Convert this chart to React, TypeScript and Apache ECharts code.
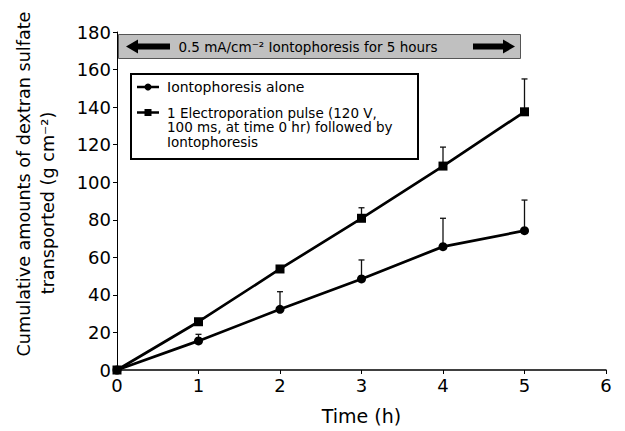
import React, { useEffect, useRef } from "react";
import * as echarts from "echarts";

const times = [0, 1, 2, 3, 4, 5];
const aloneMean = [0, 15.5, 32.3, 48.5, 65.7, 74.2];
const aloneUpper = [null, 19, 41.7, 58.6, 80.8, 90.5];
const electroMean = [0, 25.7, 53.8, 80.8, 108.6, 137.5];
const electroUpper = [null, null, null, 86.4, 118.7, 155];
const yTicks = { min: 0, max: 180, interval: 20 };
const xTicks = { min: 0, max: 6, interval: 1 };
const legendLines = ["1 Electroporation pulse (120 V,", "100 ms, at time 0 hr) followed by", "Iontophoresis"];

const FONT = "DejaVu Sans";

export default function App() {
  const ref = useRef<HTMLDivElement>(null);
  useEffect(() => {
    if (!ref.current) return;
    const chart = echarts.init(ref.current, undefined, { renderer: "svg" });

    const errData: any[] = [];
    times.forEach((t, i) => {
      if (aloneUpper[i] != null) errData.push([t, aloneMean[i], aloneUpper[i]]);
      if (electroUpper[i] != null) errData.push([t, electroMean[i], electroUpper[i]]);
    });

    const arrowL = (x0: number, x1: number, cy: number) => [
      [x0, cy],
      [x0 + 12, cy - 7],
      [x0 + 12, cy - 3],
      [x1, cy - 3],
      [x1, cy + 3],
      [x0 + 12, cy + 3],
      [x0 + 12, cy + 7],
    ];
    const arrowR = (x0: number, x1: number, cy: number) => [
      [x1, cy],
      [x1 - 12, cy - 7],
      [x1 - 12, cy - 3],
      [x0, cy - 3],
      [x0, cy + 3],
      [x1 - 12, cy + 3],
      [x1 - 12, cy + 7],
    ];

    chart.setOption({
      animation: false,
      grid: { left: 117, right: 19, top: 32, bottom: 61, containLabel: false },
      xAxis: {
        type: "value",
        min: xTicks.min,
        max: xTicks.max,
        interval: xTicks.interval,
        name: "Time (h)",
        nameLocation: "middle",
        nameGap: 36,
        nameTextStyle: { fontFamily: FONT, fontSize: 19, lineHeight: 20, color: "#000" },
        axisLine: { show: true, lineStyle: { color: "#000", width: 1.5 } },
        axisTick: { show: true, length: 4, lineStyle: { color: "#000" } },
        axisLabel: { fontFamily: FONT, fontSize: 18, color: "#000", margin: 6 },
        splitLine: { show: false },
      },
      yAxis: {
        type: "value",
        min: yTicks.min,
        max: yTicks.max,
        interval: yTicks.interval,
        axisLine: { show: true, lineStyle: { color: "#000", width: 1 } },
        axisTick: { show: true, length: 4, lineStyle: { color: "#000" } },
        axisLabel: { fontFamily: FONT, fontSize: 18, color: "#000", margin: 6 },
        splitLine: { show: false },
      },
      series: [
        {
          type: "custom",
          name: "err",
          data: errData,
          z: 1,
          renderItem: (params: any, api: any) => {
            const x = api.value(0);
            const p0 = api.coord([x, api.value(1)]);
            const p1 = api.coord([x, api.value(2)]);
            const style = { stroke: "#111", lineWidth: 1.3 };
            return {
              type: "group",
              children: [
                { type: "line", shape: { x1: p0[0], y1: p0[1], x2: p1[0], y2: p1[1] }, style },
                { type: "line", shape: { x1: p1[0] - 3, y1: p1[1], x2: p1[0] + 3, y2: p1[1] }, style },
              ],
            };
          },
        },
        {
          type: "line",
          name: "Iontophoresis alone",
          data: times.map((t, i) => [t, aloneMean[i]]),
          symbol: "circle",
          symbolSize: 9,
          showAllSymbol: true,
          lineStyle: { color: "#000", width: 2.7 },
          itemStyle: { color: "#000" },
          z: 3,
        },
        {
          type: "line",
          name: "Electroporation",
          data: times.map((t, i) => [t, electroMean[i]]),
          symbol: "rect",
          symbolSize: 9,
          showAllSymbol: true,
          lineStyle: { color: "#000", width: 2.7 },
          itemStyle: { color: "#000" },
          z: 4,
        },
      ],
      graphic: [
        {
          type: "rect",
          shape: { x: 118.5, y: 34.5, width: 402, height: 24 },
          style: { fill: "#c0c0c0", stroke: "#555", lineWidth: 1 },
          z: 10,
        },
        { type: "polygon", shape: { points: arrowL(126, 170, 46.5) }, style: { fill: "#000" }, z: 11 },
        { type: "polygon", shape: { points: arrowR(473, 515, 46.5) }, style: { fill: "#000" }, z: 11 },
        {
          type: "text",
          x: 308,
          y: 47,
          style: {
            text: "0.5 mA/cm⁻² Iontophoresis for 5 hours",
            fontFamily: FONT,
            fontSize: 13.5,
            fill: "#000",
            align: "center",
            verticalAlign: "middle",
          },
          z: 11,
        },
        {
          type: "rect",
          shape: { x: 131, y: 74, width: 287, height: 85 },
          style: { fill: "#fff", stroke: "#000", lineWidth: 2 },
          z: 10,
        },
        { type: "line", shape: { x1: 137, y1: 87, x2: 159, y2: 87 }, style: { stroke: "#000", lineWidth: 2.5 }, z: 11 },
        { type: "circle", shape: { cx: 148, cy: 87, r: 3.5 }, style: { fill: "#000" }, z: 11 },
        { type: "line", shape: { x1: 137, y1: 112.5, x2: 159, y2: 112.5 }, style: { stroke: "#000", lineWidth: 2.5 }, z: 11 },
        { type: "rect", shape: { x: 144.5, y: 109, width: 7, height: 7 }, style: { fill: "#000" }, z: 11 },
        {
          type: "text",
          x: 167,
          y: 87,
          style: {
            text: "Iontophoresis alone",
            fontFamily: FONT,
            fontSize: 14,
            fill: "#000",
            align: "left",
            verticalAlign: "middle",
          },
          z: 11,
        },
        ...legendLines.map((s, i) => ({
          type: "text",
          x: 167,
          y: 112.5 + i * 14.5,
          style: {
            text: s,
            fontFamily: FONT,
            fontSize: 13.5,
            lineHeight: 14.5,
            fill: "#000",
            align: "left",
            verticalAlign: "middle",
          },
          z: 11,
        })),
        {
          type: "text",
          x: 24,
          y: 184,
          rotation: Math.PI / 2,
          style: {
            text: "Cumulative amounts of dextran sulfate",
            fontFamily: FONT,
            fontSize: 17.6,
            fill: "#000",
            align: "center",
            verticalAlign: "middle",
          },
        },
        {
          type: "text",
          x: 48,
          y: 203,
          rotation: Math.PI / 2,
          style: {
            text: "transported (g cm⁻²)",
            fontFamily: FONT,
            fontSize: 17.6,
            fill: "#000",
            align: "center",
            verticalAlign: "middle",
          },
        },
      ],
    });
    return () => chart.dispose();
  }, []);
  return (
    <div
      ref={ref}
      style={{ position: "absolute", left: 0, top: 0, width: 625, height: 431 }}
    />
  );
}
